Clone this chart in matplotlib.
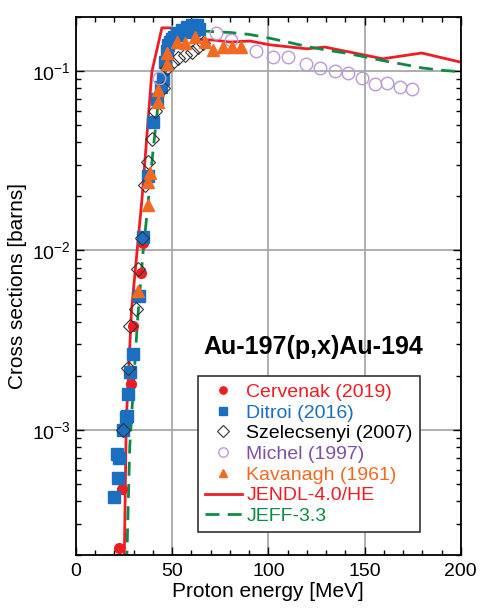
import numpy as np
import matplotlib.pyplot as plt
from matplotlib.ticker import MultipleLocator

plt.rcParams['font.family'] = ['Liberation Sans', 'DejaVu Sans']

# experimental data, energy [MeV] and cross section [b]
cerv_e = [22.3, 23.9, 28.6, 29.6, 32.7, 33.8, 34.8]
cerv_s = [2.2e-4, 4.7e-4, 1.8e-3, 3.8e-3, 5.5e-3, 7.5e-3, 1.1e-2]

ditr_e = [19.7, 21.3, 21.8, 22.2, 24.4, 26.0, 26.5, 27.0, 28.1, 29.6, 32.7, 34.8,
          37.4, 40.0, 42.1, 44.0, 45.2, 46.2, 47.5, 47.8, 49.0, 49.9, 51.0, 52.5,
          53.5, 55.0, 56.5, 57.7, 59.0, 60.3, 61.5, 62.9, 64.0]
ditr_s = [4.2e-4, 7.3e-4, 5.4e-4, 7.0e-4, 1.0e-3, 1.18e-3, 1.2e-3, 1.59e-3, 2.1e-3, 2.66e-3,
          5.6e-3, 1.18e-2, 2.6e-2, 5.2e-2, 7.0e-2, 0.081, 0.09, 0.112, 0.13, 0.14,
          0.145, 0.15, 0.155, 0.163, 0.158, 0.17, 0.165, 0.176, 0.172, 0.18, 0.17,
          0.18, 0.172]

szel_e = [24.4, 27.0, 28.1, 31.2, 32.2, 34.3, 35.8, 37.4, 39.5, 41.0, 45.2, 47.3,
          49.9, 53.0, 56.6, 60.3, 63.4, 66.0]
szel_s = [1.0e-3, 2.2e-3, 3.8e-3, 4.7e-3, 7.9e-3, 1.17e-2, 0.023, 0.031, 0.042, 0.06,
          0.08, 0.104, 0.111, 0.118, 0.123, 0.128, 0.136, 0.143]

mich_e = [43.0, 72.7, 80.5, 93.5, 102.3, 110.1, 119.5, 126.8, 134.5, 141.3, 148.6,
          155.3, 161.6, 168.3, 174.5]
mich_s = [0.092, 0.162, 0.148, 0.129, 0.12, 0.12, 0.11, 0.104, 0.1, 0.097, 0.092,
          0.085, 0.086, 0.081, 0.079]

kava_e = [32.2, 37.4, 37.4, 38.4, 42.6, 42.6, 47.3, 47.3, 52.5, 56.6, 61.8, 67.0,
          71.2, 76.4, 81.0, 85.7]
kava_s = [5.9e-3, 0.018, 0.024, 0.027, 0.067, 0.078, 0.11, 0.126, 0.145, 0.143,
          0.155, 0.145, 0.131, 0.136, 0.136, 0.136]

# evaluated data
jendl_e = [24.8, 26.2, 28.9, 34.3, 39.5, 44.7, 49.0, 54.0, 60.0, 66.0, 71.2, 80.0,
           90.4, 100.8, 120.0, 129.4, 159.5, 179.7, 200.0]
jendl_s = [1.0e-4, 1.12e-3, 4.6e-3, 0.019, 0.099, 0.174, 0.174, 0.163, 0.155, 0.149,
           0.149, 0.145, 0.147, 0.14, 0.133, 0.136, 0.117, 0.126, 0.112]

jeff_e = [25.8, 28.0, 30.0, 32.0, 35.0, 37.0, 40.0, 42.5, 45.0, 50.0, 55.0, 60.0,
          65.0, 70.0, 80.0, 90.0, 100.0, 110.0, 120.0, 130.0, 140.0, 150.0, 160.0,
          170.0, 180.0, 190.0, 200.0]
jeff_s = [1.0e-4, 8.0e-4, 1.8e-3, 4.0e-3, 1.0e-2, 0.016, 0.035, 0.062, 0.086, 0.135,
          0.16, 0.168, 0.168, 0.166, 0.164, 0.16, 0.153, 0.145, 0.137, 0.131, 0.126,
          0.12, 0.114, 0.109, 0.104, 0.101, 0.099]

red = '#ee1d24'
blue = '#1b6fc1'
purple = '#b89ad6'
purple_txt = '#7f4fa8'
orange = '#f26a21'
green = '#0d8a45'

fig = plt.figure(figsize=(4.8, 6.08), dpi=100)
ax = fig.add_axes([0.158, 0.087, 0.802, 0.885])

l1, = ax.plot(jendl_e, jendl_s, '-', color=red, lw=2, zorder=2)
l2, = ax.plot(jeff_e, jeff_s, '--', color=green, lw=2, dashes=(5, 3), zorder=2)

p1, = ax.plot(cerv_e, cerv_s, 'o', color=red, ms=7, mec=red, zorder=3)
p2, = ax.plot(ditr_e, ditr_s, 's', color=blue, ms=8, mec=blue, zorder=4)
p3, = ax.plot(szel_e, szel_s, 'D', mfc='none', mec='#333333', ms=7.5, mew=0.8, zorder=5)
p4, = ax.plot(mich_e, mich_s, 'o', mfc='none', mec=purple, ms=9, mew=1, zorder=5)
p5, = ax.plot(kava_e, kava_s, '^', color=orange, mec=orange, ms=8, zorder=6)

ax.set_yscale('log')
ax.set_xlim(0, 200)
ax.set_ylim(2e-4, 0.2)
ax.xaxis.set_major_locator(MultipleLocator(50))
ax.xaxis.set_minor_locator(MultipleLocator(10))
ax.grid(True, which='major', color='#a8a8a8', lw=1.3)
ax.set_axisbelow(True)
ax.tick_params(which='both', direction='in', top=True, right=True, labelsize=14)
ax.tick_params(which='major', length=6, width=1)
ax.tick_params(which='minor', length=3.5, width=1)
ax.tick_params(axis='x', pad=6)
for s in ax.spines.values():
    s.set_linewidth(1.3)

ax.set_xlabel('Proton energy [MeV]', fontsize=15, labelpad=1)
ax.set_ylabel('Cross sections [barns]', fontsize=15, labelpad=4)

ax.text(0.618, 0.387, 'Au-197(p,x)Au-194', transform=ax.transAxes,
        ha='center', va='center', fontsize=18, fontweight='bold')

leg = ax.legend([p1, p2, p3, p4, p5, l1, l2],
                ['Cervenak (2019)', 'Ditroi (2016)', 'Szelecsenyi (2007)',
                 'Michel (1997)', 'Kavanagh (1961)', 'JENDL-4.0/HE', 'JEFF-3.3'],
                loc='lower left', bbox_to_anchor=(0.317, 0.043), fontsize=14,
                fancybox=False, edgecolor='#333333', framealpha=1,
                markerscale=0.75, handlelength=1.9, handletextpad=0.25,
                labelspacing=0.16, borderpad=0.35, borderaxespad=0)
leg.get_frame().set_linewidth(1.2)
for t, c in zip(leg.get_texts(), [red, blue, 'black', purple_txt, orange, red, green]):
    t.set_color(c)

fig.savefig('out.png', dpi=100)
